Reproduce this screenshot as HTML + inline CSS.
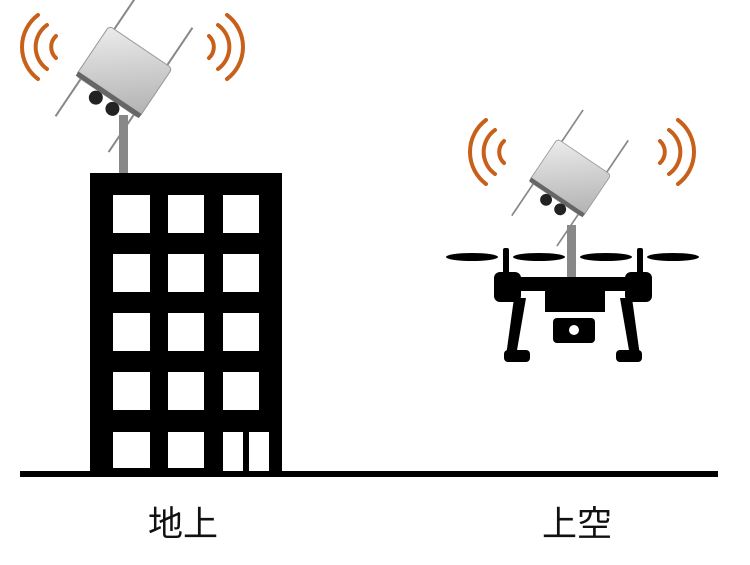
<!DOCTYPE html>
<html><head><meta charset="utf-8"><style>
body{margin:0;background:#fff;width:750px;height:565px;overflow:hidden}
.t{position:absolute;top:496px;font:35px "Liberation Sans","Noto Sans CJK JP",sans-serif;color:#111}
</style></head><body>
<svg width="750" height="565" style="position:absolute;left:0;top:0">
<defs>
<linearGradient id="g" x1="0" y1="0" x2="1" y2="1"><stop offset="0" stop-color="#ececec"/><stop offset="1" stop-color="#b0b0b0"/></linearGradient>
<g id="ap">
 <line x1="-32" y1="-75" x2="-32" y2="75" stroke="#888" stroke-width="2"/>
 <line x1="32" y1="-75" x2="32" y2="75" stroke="#888" stroke-width="2"/>
 <rect x="-38" y="-30" width="76" height="60" rx="4" fill="url(#g)" stroke="#999"/>
 <rect x="-38" y="25" width="76" height="5" fill="#666"/>
 <circle cx="-9" cy="37" r="7" fill="#222"/><circle cx="11" cy="37" r="7" fill="#222"/>
</g>
<g id="w" fill="none" stroke="#c8601a" stroke-width="4" stroke-linecap="round">
 <path d="M-6,-11 A15,15 0 0 0 -6,11"/>
 <path d="M-15,-22 A27,27 0 0 0 -15,22"/>
 <path d="M-24,-32 A40,40 0 0 0 -24,32"/>
</g>
</defs>
<rect x="20" y="471" width="698" height="6" fill="#000"/>
<rect x="119" y="115" width="9" height="60" fill="#888"/>
<rect x="90" y="173" width="192" height="300" fill="#000"/>
<g fill="#fff">
<rect x="113" y="195" width="37" height="38"/><rect x="168" y="195" width="36" height="38"/><rect x="223" y="195" width="36" height="38"/>
<rect x="113" y="254" width="37" height="38"/><rect x="168" y="254" width="36" height="38"/><rect x="223" y="254" width="36" height="38"/>
<rect x="113" y="313" width="37" height="38"/><rect x="168" y="313" width="36" height="38"/><rect x="223" y="313" width="36" height="38"/>
<rect x="113" y="372" width="37" height="38"/><rect x="168" y="372" width="36" height="38"/><rect x="223" y="372" width="36" height="38"/>
<rect x="113" y="432" width="37" height="36"/><rect x="168" y="432" width="36" height="36"/>
<rect x="223" y="432" width="20" height="39"/><rect x="249" y="432" width="20" height="39"/>
</g>
<use href="#ap" transform="translate(124,72) rotate(34)"/>
<use href="#w" transform="translate(62,47)"/>
<use href="#w" transform="translate(203,47) scale(-1,1)"/>
<rect x="567" y="225" width="9" height="75" fill="#888"/>
<g fill="#000">
<ellipse cx="472" cy="257" rx="26" ry="4"/><ellipse cx="539" cy="257" rx="26" ry="4"/>
<ellipse cx="606" cy="257" rx="26" ry="4"/><ellipse cx="673" cy="257" rx="26" ry="4"/>
<rect x="503" y="248" width="6" height="30" rx="2"/><rect x="637" y="248" width="6" height="30" rx="2"/>
<rect x="494" y="272" width="27" height="30" rx="6"/><rect x="625" y="272" width="27" height="30" rx="6"/>
<rect x="494" y="277" width="158" height="14" rx="4"/>
<rect x="545" y="285" width="60" height="27"/>
<rect x="553" y="318" width="42" height="25" rx="4"/>
<path d="M514,298 L526,298 L516,356 L506,356 Z"/><path d="M620,298 L632,298 L640,356 L630,356 Z"/>
<rect x="504" y="350" width="26" height="12" rx="4"/><rect x="616" y="350" width="26" height="12" rx="4"/>
</g>
<circle cx="574" cy="330" r="5" fill="#fff"/>
<use href="#ap" transform="translate(570,178) rotate(34) scale(0.85)"/>
<use href="#w" transform="translate(510,152)"/>
<use href="#w" transform="translate(654,152) scale(-1,1)"/>
</svg>
<div class="t" style="left:148px">地上</div>
<div class="t" style="left:542px">上空</div>
</body></html>
